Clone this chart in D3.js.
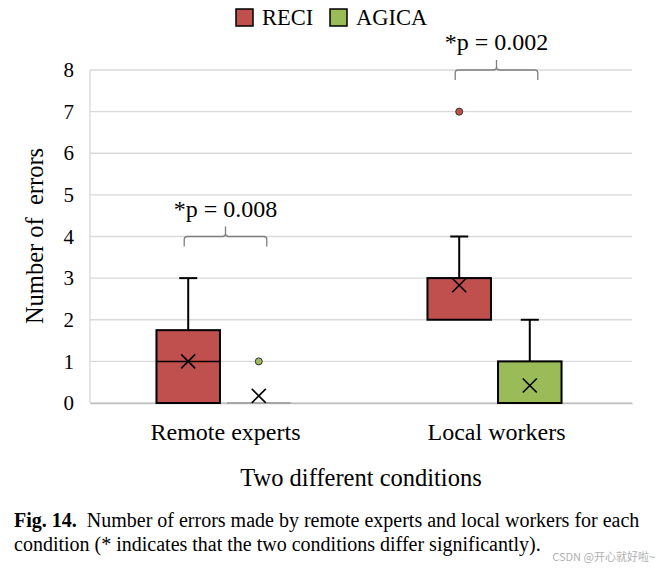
<!DOCTYPE html>
<html>
<head>
<meta charset="utf-8">
<script src="https://cdn.jsdelivr.net/npm/d3@7"></script>
<style>
  body { margin: 0; background: #fff; }
  svg { display: block; }
</style>
</head>
<body>
<div id="root"></div>
<script>
// Chart data
const categories = ["Remote experts", "Local workers"];
const seriesNames = ["RECI", "AGICA"];
const seriesColors = ["#C0504D", "#9BBB59"];
// [Remote experts, Local workers] for each series
const q1Values = { RECI: [0, 2], AGICA: [0, 0] };
const medianValues = { RECI: [1, 3], AGICA: [0, 0] };
const q3Values = { RECI: [1.75, 3], AGICA: [0, 1] };
const whiskerMax = { RECI: [3, 4], AGICA: [0, 2] };
const meanValues = { RECI: [1, 2.83], AGICA: [0.17, 0.42] };
const outlierValues = { RECI: [[], [7]], AGICA: [[1], []] };
const yTicks = [0, 1, 2, 3, 4, 5, 6, 7, 8];
const pLabels = ["*p = 0.008", "*p = 0.002"];
const bracketLevels = [4, 8];

const width = 664;
const height = 572;
const margins = { top: 70, right: 32, bottom: 169, left: 90 };
const serif = "'Liberation Serif', 'Times New Roman', serif";

const svg = d3
  .select("#root")
  .append("svg")
  .attr("width", width)
  .attr("height", height)
  .attr("viewBox", `0 0 ${width} ${height}`);

const yScale = d3
  .scaleLinear()
  .domain([0, 8])
  .range([height - margins.bottom, margins.top]);

const xScale = d3
  .scaleBand()
  .domain(categories)
  .range([margins.left, width - margins.right]);

const xSub = d3
  .scaleBand()
  .domain(seriesNames)
  .range([-2, xScale.bandwidth() - 2])
  .paddingInner(0.1)
  .paddingOuter(0.97);

// gridlines
svg
  .append("g")
  .selectAll("line")
  .data(yTicks)
  .join("line")
  .attr("x1", margins.left)
  .attr("x2", width - margins.right)
  .attr("y1", (d) => yScale(d))
  .attr("y2", (d) => yScale(d))
  .attr("stroke", "#d9d9d9")
  .attr("stroke-width", 1.3);

// left axis line
svg
  .append("line")
  .attr("x1", margins.left)
  .attr("x2", margins.left)
  .attr("y1", yScale(8))
  .attr("y2", yScale(0))
  .attr("stroke", "#d9d9d9")
  .attr("stroke-width", 1.3);

const yAxis = d3.axisLeft(yScale).tickValues(yTicks).tickSize(0).tickPadding(16);
const yAxisArea = svg
  .append("g")
  .attr("transform", `translate(${margins.left}, 0)`)
  .call(yAxis)
  .attr("font-family", serif)
  .attr("font-size", 21);
yAxisArea.select(".domain").remove();
yAxisArea.selectAll("text").attr("fill", "#000");

const xAxis = d3.axisBottom(xScale).tickSize(0).tickPadding(20);
const xAxisArea = svg
  .append("g")
  .attr("transform", `translate(0, ${yScale(0)})`)
  .call(xAxis)
  .attr("font-family", serif)
  .attr("font-size", 24);
xAxisArea.select(".domain").attr("stroke", "#bfbfbf").attr("stroke-width", 1.3);
xAxisArea.selectAll("text").attr("fill", "#000");

// axis titles
svg
  .append("text")
  .attr("x", 361)
  .attr("y", 486)
  .attr("text-anchor", "middle")
  .attr("font-family", serif)
  .attr("font-size", 24.5)
  .text("Two different conditions");

svg
  .append("text")
  .attr("transform", "translate(43, 236) rotate(-90)")
  .attr("text-anchor", "middle")
  .attr("font-family", serif)
  .attr("font-size", 24.5)
  .text("Number of\u00a0 errors");

// boxes
const capWidth = 18;
seriesNames.forEach((s, si) => {
  const g = svg.append("g");
  categories.forEach((c, ci) => {
    const x0 = xScale(c) + xSub(s);
    const bw = xSub.bandwidth();
    const cx = x0 + bw / 2;
    const q1 = q1Values[s][ci];
    const q3 = q3Values[s][ci];
    const hi = whiskerMax[s][ci];

    if (hi > q3) {
      g.append("line")
        .attr("x1", cx).attr("x2", cx)
        .attr("y1", yScale(q3)).attr("y2", yScale(hi))
        .attr("stroke", "#000").attr("stroke-width", 2);
      g.append("line")
        .attr("x1", cx - capWidth / 2).attr("x2", cx + capWidth / 2)
        .attr("y1", yScale(hi)).attr("y2", yScale(hi))
        .attr("stroke", "#000").attr("stroke-width", 2);
    }

    if (q3 > q1) {
      g.append("rect")
        .attr("x", x0)
        .attr("y", yScale(q3))
        .attr("width", bw)
        .attr("height", yScale(q1) - yScale(q3))
        .attr("fill", seriesColors[si])
        .attr("stroke", "#000")
        .attr("stroke-width", 2);
      g.append("line")
        .attr("x1", x0).attr("x2", x0 + bw)
        .attr("y1", yScale(medianValues[s][ci])).attr("y2", yScale(medianValues[s][ci]))
        .attr("stroke", "#000").attr("stroke-width", 1.5);
    } else {
      g.append("line")
        .attr("x1", x0).attr("x2", x0 + bw)
        .attr("y1", yScale(q1)).attr("y2", yScale(q1))
        .attr("stroke", "#a6a6a6").attr("stroke-width", 2);
    }

    // mean marker
    const my = yScale(meanValues[s][ci]);
    const m = 7;
    g.append("path")
      .attr("d", `M${cx - m},${my - m}L${cx + m},${my + m}M${cx - m},${my + m}L${cx + m},${my - m}`)
      .attr("stroke", "#000")
      .attr("stroke-width", 1.6);

    g.selectAll(null)
      .data(outlierValues[s][ci])
      .join("circle")
      .attr("cx", cx)
      .attr("cy", (d) => yScale(d))
      .attr("r", 3.5)
      .attr("fill", seriesColors[si])
      .attr("stroke", "#333")
      .attr("stroke-width", 1);
  });
});

// significance brackets
categories.forEach((c, ci) => {
  const xl = xScale(c) + xSub("RECI") + xSub.bandwidth() / 2 - 4;
  const xr = xScale(c) + xSub("AGICA") + xSub.bandwidth() / 2 + 8;
  const xm = (xl + xr) / 2;
  const yb = yScale(bracketLevels[ci]);
  const r = 3;
  svg
    .append("path")
    .attr(
      "d",
      `M${xl},${yb + 10}L${xl},${yb + r}Q${xl},${yb} ${xl + r},${yb}` +
        `L${xm - r},${yb}Q${xm},${yb} ${xm},${yb - r}L${xm},${yb - 10}` +
        `M${xm},${yb - r}Q${xm},${yb} ${xm + r},${yb}` +
        `L${xr - r},${yb}Q${xr},${yb} ${xr},${yb + r}L${xr},${yb + 10}`
    )
    .attr("fill", "none")
    .attr("stroke", "#7f7f7f")
    .attr("stroke-width", 1.3);
  svg
    .append("text")
    .attr("x", xm)
    .attr("y", yb - 20)
    .attr("text-anchor", "middle")
    .attr("font-family", serif)
    .attr("font-size", 24)
    .text(pLabels[ci]);
});

// legend
const legend = svg.append("g").attr("transform", "translate(236, 9)");
const legendX = [0, 94];
seriesNames.forEach((s, i) => {
  legend
    .append("rect")
    .attr("x", legendX[i])
    .attr("y", 0)
    .attr("width", 17)
    .attr("height", 17)
    .attr("fill", seriesColors[i])
    .attr("stroke", "#000")
    .attr("stroke-width", 1.5);
  legend
    .append("text")
    .attr("x", legendX[i] + 26)
    .attr("y", 16)
    .attr("font-family", serif)
    .attr("font-size", 22.5)
    .text(s);
});

// caption
const cap1 = svg
  .append("text")
  .attr("x", 14)
  .attr("y", 527)
  .attr("font-family", serif)
  .attr("font-size", 20);
cap1.append("tspan").attr("font-weight", "bold").text("Fig. 14.");
cap1.append("tspan").text("\u2002Number of errors made by remote experts and local workers for each");

svg
  .append("text")
  .attr("x", 14)
  .attr("y", 551)
  .attr("font-family", serif)
  .attr("font-size", 20)
  .text("condition (* indicates that the two conditions differ significantly).");

svg
  .append("text")
  .attr("x", 655)
  .attr("y", 561)
  .attr("text-anchor", "end")
  .attr("font-family", "'Noto Sans CJK SC', sans-serif")
  .attr("font-size", 11)
  .attr("fill", "#b0b0b0")
  .text("CSDN @开心就好啦~");
</script>
</body>
</html>
